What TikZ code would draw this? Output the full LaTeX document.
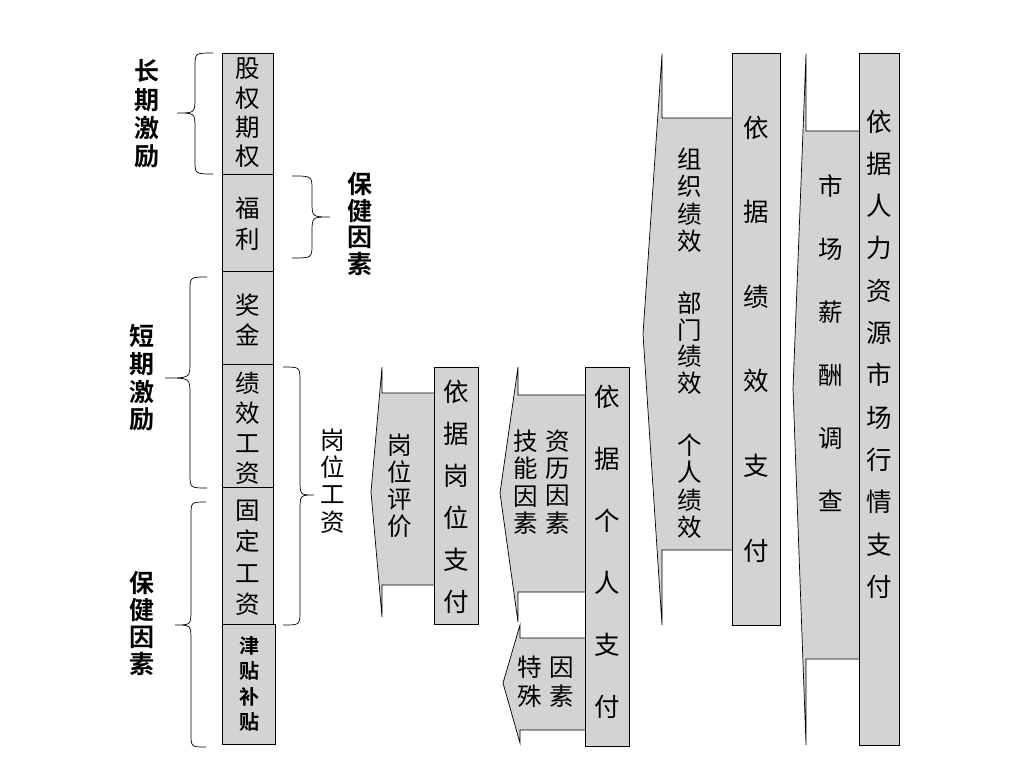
\documentclass[tikz,border=0pt]{standalone}
\usepackage{fontspec}
\setmainfont[BoldFont={Noto Sans CJK SC Bold}]{Noto Sans CJK SC}
\definecolor{boxgray}{RGB}{211,211,211}
\newcommand{\fsz}[2]{\fontsize{#1}{#2}\selectfont}
\newcommand{\mybrace}[6]{% xend xspine xtip ytop ymid ybot
  \draw[brc] (#1,#4) .. controls (#2,#4) .. (#2,#4+14) -- (#2,#5-16)
    .. controls (#2,#5) .. (#3,#5) .. controls (#2,#5) .. (#2,#5+16)
    -- (#2,#6-14) .. controls (#2,#6) .. (#1,#6);}
\tikzset{
  box/.style={draw=black, fill=boxgray, line width=0.8pt, inner sep=0pt, anchor=north west},
  arr/.style={draw=black, fill=boxgray, line width=0.7pt, line join=miter},
  brc/.style={draw=black, line width=0.7pt},
  vt/.style={align=center, inner sep=0pt},
  lbl/.style={align=center, inner sep=0pt}
}
\begin{document}
\begin{tikzpicture}[x=1pt,y=-1pt]
\useasboundingbox (0,0) rectangle (1024,768);
\fill[white] (0,0) rectangle (1024,768);

% ---------- block arrows ----------
\draw[arr] (434,393) -- (382,393) -- (382,367) -- (371,492) -- (382,617) -- (382,585) -- (434,585);
\draw[arr] (585,395) -- (518,395) -- (518,367) -- (500,493) -- (518,622) -- (518,592) -- (585,592);
\draw[arr] (585,638) -- (520,638) -- (520,625) -- (503,683) -- (520,743) -- (520,730) -- (585,730);
\draw[arr] (732,118) -- (662,118) -- (662,54) -- (643,334) -- (662,625) -- (662,550) -- (732,550);
\draw[arr] (859,131) -- (806,131) -- (806,54) -- (793,389) -- (806,745) -- (806,659) -- (859,659);

% ---------- left column boxes ----------
\node[box, minimum width=51pt, minimum height=121pt] (b1) at (222,53) {};
\node[box, minimum width=51pt, minimum height=97pt]  (b2) at (222,174) {};
\node[box, minimum width=51pt, minimum height=93pt]  (b3) at (222,271) {};
\node[box, minimum width=51pt, minimum height=123pt] (b4) at (222,364) {};
\node[box, minimum width=51pt, minimum height=137pt] (b5) at (222,487) {};
\node[box, minimum width=53pt, minimum height=120pt] (b6) at (222,624) {};

\node[vt, font=\fsz{24.5}{29.3}] (t1) at (248,113) {股\\权\\期\\权};
\node[vt, font=\fsz{24.5}{31}]   (t2) at (248,224) {福\\利};
\node[vt, font=\fsz{24.5}{30}]   (t3) at (248,320) {奖\\金};
\node[vt, font=\fsz{24.5}{30}]   (t4) at (248,428) {绩\\效\\工\\资};
\node[vt, font=\fsz{24.5}{31.5}] (t5) at (248,558) {固\\定\\工\\资};
\node[vt, font=\bfseries\fsz{20}{25.3}] (t6) at (249,684) {津\\贴\\补\\贴};

% ---------- right boxes ----------
\node[box, minimum width=44pt, minimum height=257pt] (p1) at (434,367) {};
\node[box, minimum width=44pt, minimum height=379pt] (p2) at (585,367) {};
\node[box, minimum width=48pt, minimum height=572pt] (p3) at (732,53) {};
\node[box, minimum width=40pt, minimum height=692pt] (p4) at (859,53) {};

\node[vt, font=\fsz{25.5}{42}]   (q1) at (456,497) {依\\据\\岗\\位\\支\\付};
\node[vt, font=\fsz{25.5}{62}]   (q2) at (607,552) {依\\据\\个\\人\\支\\付};
\node[vt, font=\fsz{25.5}{84.6}] (q3) at (756,339) {依\\据\\绩\\效\\支\\付};
\node[vt, font=\fsz{25.5}{42.3}] (q4) at (879,354) {依\\据\\人\\力\\资\\源\\市\\场\\行\\情\\支\\付};

% ---------- arrow texts ----------
\node[vt, font=\fsz{24.5}{27}]   (a1) at (400,486) {岗\\位\\评\\价};
\node[vt, font=\fsz{24.5}{27.3}] (a2r) at (558,482) {资\\历\\因\\素};
\node[vt, font=\fsz{24.5}{27.3}] (a2l) at (526,482) {技\\能\\因\\素};
\node[vt, font=\fsz{24.5}{29}]   (a3l) at (530,682) {特\\殊};
\node[vt, font=\fsz{24.5}{29}]   (a3r) at (562,682) {因\\素};
\node[vt, font=\fsz{24.5}{27.5}] (a4a) at (690,200) {组\\织\\绩\\效};
\node[vt, font=\fsz{24.5}{26.5}] (a4b) at (690,343) {部\\门\\绩\\效};
\node[vt, font=\fsz{24.5}{27.5}] (a4c) at (690,486) {个\\人\\绩\\效};
\node[vt, font=\fsz{24.5}{63}]   (a5) at (831,343) {市\\场\\薪\\酬\\调\\查};

% ---------- braces ----------
\mybrace{213}{195}{177}{53}{113}{174}
\mybrace{292}{312}{330}{176}{217}{258}
\mybrace{207}{190}{165}{277}{378}{488}
\mybrace{206}{191}{175}{502}{625}{747}
\mybrace{283}{300}{314}{367}{495}{625}

% ---------- brace labels ----------
\node[lbl, font=\bfseries\fsz{25}{28.3}] (l1) at (147,114) {长\\期\\激\\励};
\node[lbl, font=\bfseries\fsz{25}{26.7}] (l2) at (360,224) {保\\健\\因\\素};
\node[lbl, font=\bfseries\fsz{25}{27.7}] (l3) at (142,378) {短\\期\\激\\励};
\node[lbl, font=\bfseries\fsz{25}{27}]   (l4) at (142,624) {保\\健\\因\\素};
\node[lbl, font=\fsz{24.5}{27.3}]        (l5) at (333,481) {岗\\位\\工\\资};
\end{tikzpicture}
\end{document}
